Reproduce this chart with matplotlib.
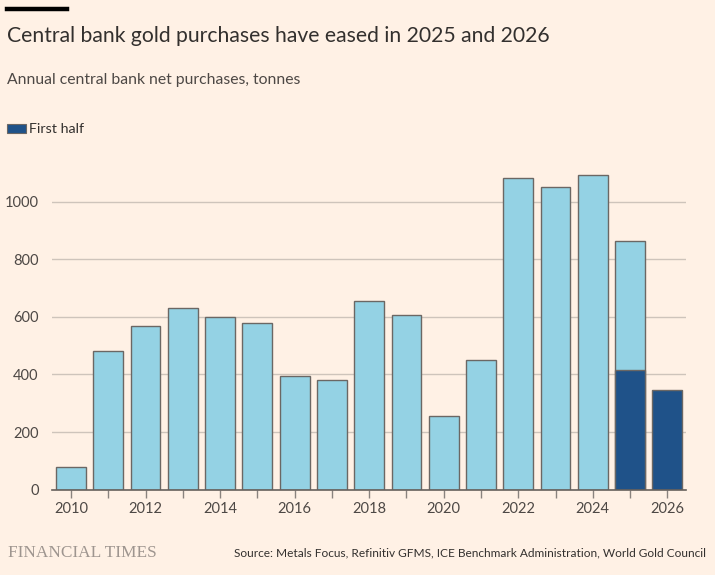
import numpy as np
import matplotlib.pyplot as plt
from matplotlib.patches import Rectangle
from matplotlib.lines import Line2D

# data (tonnes)
years = list(range(2010, 2027))
full_year = [79, 481, 569, 629, 601, 580, 395, 379, 656, 605, 255, 450,
             1082, 1051, 1092, 863, np.nan]
first_half = [np.nan] * 15 + [415, 346]
y_ticks = [0, 200, 400, 600, 800, 1000]
x_labels = [2010, 2012, 2014, 2016, 2018, 2020, 2022, 2024, 2026]

bg = "#FFF1E5"
light = "#94D2E4"
dark = "#1F5289"
edge = "#6B6764"
text_dark = "#33302E"
text_mid = "#4D4845"
grid_col = "#CEC4BB"

plt.rcParams["font.family"] = ["Lato", "DejaVu Sans"]

fig = plt.figure(figsize=(7.15, 5.75), dpi=100, facecolor=bg)
ax = fig.add_axes([52.4 / 715, 1 - 489.6 / 575, (686 - 52.4) / 715, 1150 * 0.288 / 575])
ax.set_facecolor(bg)

ax.bar(years, full_year, width=0.8, color=light, edgecolor=edge, linewidth=1.0, zorder=3)
ax.bar(years, first_half, width=0.8, color=dark, edgecolor=edge, linewidth=1.0, zorder=4)

ax.set_xlim(2009.5, 2026.5)
ax.set_ylim(0, 1150)

ax.set_yticks(y_ticks)
ax.set_yticklabels([str(v) for v in y_ticks])
for v in y_ticks[1:]:
    ax.axhline(v, color=grid_col, linewidth=1.0, zorder=1)
ax.tick_params(axis="y", length=0, pad=10, labelsize=10.5, labelcolor=text_mid)

ax.set_xticks(years)
ax.set_xticklabels([str(y) if y in x_labels else "" for y in years])
ax.tick_params(axis="x", length=6, width=1, color="#8A837E", pad=3,
               labelsize=10.5, labelcolor=text_mid)

for s in ["top", "right", "left"]:
    ax.spines[s].set_visible(False)
ax.spines["bottom"].set_color("#66605C")
ax.spines["bottom"].set_linewidth(1.2)
ax.spines["bottom"].set_zorder(5)

# header
fig.add_artist(Line2D([7 / 715, 67 / 715], [1 - 8.5 / 575, 1 - 8.5 / 575],
                      color="black", linewidth=3.2))
fig.text(7 / 715, 1 - 36 / 575, "Central bank gold purchases have eased in 2025 and 2026",
         fontsize=15.25, color=text_dark, va="center", ha="left")
fig.text(7 / 715, 1 - 80 / 575, "Annual central bank net purchases, tonnes",
         fontsize=11.3, color=text_mid, va="center", ha="left")

# legend
fig.add_artist(Rectangle((7 / 715, 1 - 133 / 575), 19 / 715, 9 / 575,
                         facecolor=dark, edgecolor=edge, linewidth=0.8))
fig.text(29 / 715, 1 - 129 / 575, "First half", fontsize=10.3, color=text_dark,
         va="center", ha="left")

# footer
fig.text(8 / 715, 1 - 553 / 575, "FINANCIAL TIMES", fontsize=12.4, color="#9E958F",
         family="Liberation Serif", va="center", ha="left")
fig.text(706 / 715, 1 - 553 / 575,
         "Source: Metals Focus, Refinitiv GFMS, ICE Benchmark Administration, World Gold Council",
         fontsize=8.6, color=text_dark, va="center", ha="right")

fig.savefig("out.png", dpi=100, facecolor=bg)
